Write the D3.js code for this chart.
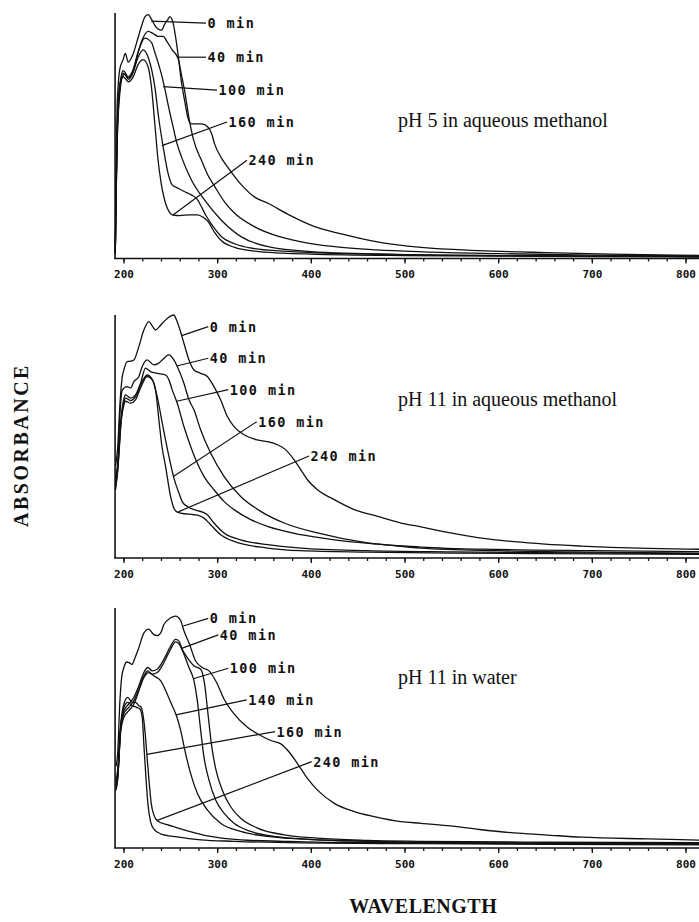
<!DOCTYPE html>
<html>
<head>
<meta charset="utf-8">
<script src="https://cdn.jsdelivr.net/npm/d3@7.9.0/dist/d3.min.js"></script>
<style>
  body { margin: 0; background: #fff; }
  svg { display: block; }
  .curve { fill: none; stroke: #111; stroke-width: 1.3; stroke-linejoin: round; }
  .axis-line { stroke: #111; stroke-width: 1.6; }
  .tick line { stroke: #111; stroke-width: 1.3; }
  .tick text { font-family: "DejaVu Sans Mono", monospace; font-weight: bold; font-size: 11px; fill: #111; }
  .leader { stroke: #111; stroke-width: 1.2; }
  .curve-label { font-family: "DejaVu Sans Mono", monospace; font-weight: bold; font-size: 13.5px; letter-spacing: 1.4px; fill: #111; }
  .panel-title { font-family: "Liberation Serif", serif; font-size: 20px; fill: #111; }
  .axis-title { font-family: "Liberation Serif", serif; font-weight: bold; font-size: 20px; fill: #111; }
</style>
</head>
<body>
<svg id="chart" width="699" height="922"></svg>
<script>
// x-axis tick labels (nm)
const majorTicks = [200, 300, 400, 500, 600, 700, 800];

// spectra: [wavelength nm, relative absorbance]
// pH 5 in aqueous methanol
const ph5_0 = [[191.2,.02],[192.2,.35],[193.2,.62],[196,.77],[199.6,.81],[202,.835],[205,.80],[210.3,.834],[215.6,.90],[219.2,.946],[223,.985],[226.3,.993],[229.8,.975],[233.4,.95],[236.9,.935],[240.5,.93],[244,.955],[247.6,.975],[249.4,.985],[252.9,.96],[256.5,.88],[258.3,.83],[261.8,.72],[265.4,.64],[269,.57],[272.5,.548],[283.2,.548],[290.3,.535],[293.9,.51],[297.4,.465],[304.5,.41],[311.6,.37],[325.9,.30],[340.1,.25],[354.3,.225],[375.7,.18],[404.1,.13],[432.6,.10],[468.1,.07],[518,.045],[580,.032],[650,.024],[720,.018],[816,.013]];
const ph5_40 = [[191.2,.02],[192.2,.3],[193.2,.52],[196,.71],[199.6,.745],[201.4,.75],[205,.73],[210.3,.76],[215.6,.84],[221,.90],[226.3,.925],[232,.915],[237,.905],[242.3,.905],[247,.88],[252,.85],[258.3,.815],[261.8,.75],[265.4,.68],[270,.57],[274.3,.49],[283.2,.40],[290,.34],[297.4,.293],[308,.23],[318.7,.184],[340.1,.129],[361.4,.095],[389.9,.068],[425.5,.048],[470,.035],[520,.027],[600,.02],[700,.014],[816,.01]];
const ph5_100 = [[191.2,.02],[192.2,.28],[193.2,.5],[196,.70],[199.6,.765],[201.4,.76],[205,.74],[210.3,.77],[215.6,.84],[222.7,.898],[229.8,.88],[233.4,.84],[240.5,.75],[244,.694],[248,.62],[252.9,.537],[257,.47],[261.8,.415],[272.5,.32],[286.7,.238],[304.5,.156],[325.9,.088],[354.3,.048],[400,.028],[500,.016],[600,.012],[700,.01],[816,.008]];
const ph5_160 = [[191.2,.02],[192.2,.27],[193.2,.48],[196,.69],[199.6,.755],[201.4,.75],[205,.735],[210.3,.76],[215.6,.82],[221,.85],[226.3,.82],[230,.77],[233.4,.70],[238,.56],[242.3,.456],[247.6,.347],[252,.30],[258.3,.286],[265.4,.272],[272.5,.259],[279,.24],[283.2,.211],[288,.175],[293.9,.14],[304.5,.09],[318.7,.06],[340,.04],[370,.03],[400,.024],[500,.016],[600,.012],[700,.01],[816,.008]];
const ph5_240 = [[191.2,.02],[192.2,.26],[193.2,.46],[196,.67],[199.6,.74],[201.4,.735],[205,.72],[210.3,.74],[215.6,.79],[221,.81],[226.3,.78],[229.8,.70],[233.4,.55],[236.9,.40],[240.5,.30],[245.8,.215],[252.9,.177],[260,.175],[270,.178],[279,.178],[285,.168],[290.3,.15],[297.4,.105],[304.5,.072],[318.7,.045],[340,.03],[370,.022],[400,.018],[500,.012],[600,.01],[700,.008],[816,.006]];

// pH 11 in aqueous methanol
const ph11m_0 = [[191.5,.38],[193.9,.46],[196,.62],[198.5,.74],[200.4,.774],[203.9,.808],[207.5,.81],[211.1,.815],[216.4,.87],[221.7,.938],[227.1,.973],[230.7,.955],[234.2,.938],[237.8,.95],[241.4,.966],[246.7,.986],[253.8,1.0],[256.5,.98],[259.2,.952],[264.5,.884],[269.9,.815],[275.2,.774],[282.4,.76],[289.5,.747],[296.6,.705],[303.7,.651],[310.9,.582],[318,.541],[328.7,.507],[343,.486],[353.7,.479],[364.3,.466],[373.3,.445],[382.2,.404],[389.3,.363],[396.4,.322],[407.1,.281],[425,.24],[446.3,.199],[471.3,.171],[496.3,.144],[517.6,.128],[546,.105],[580,.083],[617,.067],[650,.057],[689,.049],[720,.044],[760,.04],[816,.036]];
const ph11m_40 = [[191.5,.33],[193.9,.40],[196,.58],[198.6,.69],[203.9,.705],[207.5,.70],[211.1,.726],[216.4,.747],[220,.788],[225.3,.815],[232.4,.795],[237,.80],[241.4,.815],[248.5,.836],[253.8,.815],[257.4,.788],[264.5,.719],[269.9,.651],[275.2,.61],[282.4,.527],[293,.432],[307.3,.336],[325.1,.253],[346.5,.192],[371.5,.144],[407.1,.103],[460.6,.062],[517.6,.045],[600,.035],[700,.03],[816,.026]];
const ph11m_100 = [[191.5,.30],[193.9,.38],[197.5,.58],[200.4,.655],[202.1,.671],[207.5,.658],[212.8,.671],[218.2,.719],[223.5,.781],[228.9,.767],[236,.76],[244.9,.753],[248.5,.733],[252,.692],[257.4,.637],[264.5,.541],[271.7,.459],[278.8,.39],[285.9,.336],[296.6,.281],[307.3,.233],[318,.199],[335.8,.158],[353.7,.13],[389.3,.096],[425,.075],[478.4,.055],[517.6,.041],[600,.03],[700,.024],[816,.02]];
const ph11m_160 = [[191.5,.29],[193.9,.37],[197.5,.57],[200.4,.64],[202.1,.658],[207.5,.648],[212.8,.664],[218.2,.712],[225.3,.753],[230.7,.735],[236,.664],[241.4,.555],[248.5,.418],[253.8,.329],[259.2,.267],[263,.23],[268.1,.212],[278.8,.195],[285,.188],[289.5,.178],[296.6,.144],[307.3,.103],[325,.075],[353.7,.055],[389,.041],[460,.03],[550,.025],[650,.022],[816,.018]];
const ph11m_240 = [[191.5,.28],[193.9,.36],[197.5,.56],[200.4,.63],[202.1,.645],[207.5,.637],[212.8,.651],[218.2,.70],[225.3,.747],[230.7,.733],[234.2,.692],[237.8,.568],[241,.46],[244.9,.377],[250.3,.253],[253.8,.205],[257,.19],[261,.185],[275.2,.178],[280,.175],[285.9,.164],[293,.137],[303.7,.096],[318,.068],[353.7,.041],[389,.03],[460,.024],[550,.02],[650,.018],[816,.015]];

// pH 11 in water
const ph11w_0 = [[192,.34],[193.9,.40],[196,.6],[198,.71],[200.4,.752],[203.5,.775],[206,.772],[209,.765],[212,.79],[216,.83],[221.7,.895],[227,.912],[232,.89],[236,.885],[239.6,.895],[243,.93],[250,.958],[255.6,.966],[261,.948],[264.5,.905],[269.9,.855],[277,.779],[284.1,.752],[291.3,.738],[298.4,.697],[307.3,.621],[318,.559],[332.3,.503],[343,.476],[357.2,.448],[367.9,.434],[376.8,.40],[385.7,.352],[396.4,.29],[407.1,.241],[425,.186],[446.3,.152],[467.7,.131],[496.3,.11],[517.6,.103],[546,.093],[580,.077],[617,.063],[650,.055],[689,.045],[760,.038],[816,.033]];
const ph11w_40 = [[192,.28],[193.9,.33],[196.8,.50],[200.4,.572],[205.7,.60],[211.1,.628],[216.4,.676],[221.7,.731],[226,.752],[230.7,.738],[236,.745],[243.1,.786],[250.3,.841],[255.6,.869],[259.2,.862],[262.7,.828],[268.1,.793],[275.2,.759],[282.4,.745],[286.6,.683],[290.2,.559],[293.8,.434],[298.4,.331],[305.5,.241],[314.4,.172],[325.1,.124],[343,.083],[371.5,.055],[407.1,.041],[460.6,.032],[517.6,.028],[650,.024],[816,.022]];
const ph11w_100 = [[192,.27],[193.9,.31],[196.8,.49],[200.4,.559],[205.7,.586],[211.1,.614],[216.4,.662],[221.7,.717],[226,.738],[230.7,.724],[236,.731],[243.1,.772],[250.3,.828],[255.6,.859],[259.2,.851],[264.5,.807],[269.9,.752],[275.2,.697],[278.8,.614],[282.4,.49],[285.9,.379],[291.3,.283],[298.4,.20],[307.3,.145],[318,.103],[335.8,.069],[360.8,.048],[407.1,.034],[460.6,.028],[517.6,.023],[650,.02],[816,.018]];
const ph11w_140 = [[192,.26],[193.9,.30],[196.8,.476],[200.4,.545],[205.7,.572],[211.1,.60],[216.4,.655],[221.7,.71],[227.1,.731],[232.4,.717],[239.6,.697],[246.7,.641],[252,.593],[256.7,.549],[261,.49],[266.3,.393],[271.7,.31],[278.8,.228],[289.5,.159],[303.7,.103],[325.1,.069],[353.7,.048],[407.1,.034],[460.6,.028],[517.6,.023],[650,.019],[816,.017]];
const ph11w_160 = [[192,.25],[193.9,.297],[196.8,.503],[200.4,.60],[204.6,.628],[209.3,.607],[212.8,.607],[216.4,.593],[218.9,.586],[221.7,.531],[223.5,.462],[225.3,.372],[227.5,.269],[229.6,.186],[232.4,.138],[236,.114],[246.7,.097],[264.5,.076],[293,.048],[325.1,.034],[371.5,.028],[425,.023],[517.6,.021],[650,.018],[816,.016]];
const ph11w_240 = [[192,.24],[193.9,.29],[196.8,.49],[200.4,.586],[204.6,.607],[209.3,.593],[213.9,.586],[217.5,.579],[220,.545],[221.7,.434],[223.9,.297],[226,.186],[228.9,.11],[232.4,.079],[239.6,.059],[257.4,.046],[282.4,.034],[318,.028],[389.3,.021],[517.6,.018],[650,.015],[816,.013]];

// curve labels: leader from a point on the curve to the label (data units)
const ph5Labels = [
  { text: '0 min',   from: [229.4, .967], to: [288.1, .959] },
  { text: '40 min',  from: [257.1, .82],  to: [288.1, .82] },
  { text: '100 min', from: [242.2, .70],  to: [299.8, .686] },
  { text: '160 min', from: [241.1, .46],  to: [310.5, .556] },
  { text: '240 min', from: [252.8, .177], to: [331.8, .40] }
];
const ph11mLabels = [
  { text: '0 min',   from: [262.1, .915], to: [290.5, .952] },
  { text: '40 min',  from: [256.8, .79],  to: [290.5, .822] },
  { text: '100 min', from: [256.8, .645], to: [311.9, .693] },
  { text: '160 min', from: [253.2, .335], to: [342.2, .561] },
  { text: '240 min', from: [258.5, .19],  to: [398, .42] }
];
const ph11wLabels = [
  { text: '0 min',   from: [263.8, .925], to: [290.5, .957] },
  { text: '40 min',  from: [262.1, .832], to: [301.2, .888] },
  { text: '100 min', from: [274.5, .705], to: [311.9, .749] },
  { text: '140 min', from: [256, .555],   to: [331.5, .617] },
  { text: '160 min', from: [224.8, .39],  to: [361.7, .485] },
  { text: '240 min', from: [235.4, .114], to: [400.9, .36] }
];

const panels = [
  { title: 'pH 5 in aqueous methanol',  series: [ph5_0, ph5_40, ph5_100, ph5_160, ph5_240], labels: ph5Labels, titleAt: [493, .536] },
  { title: 'pH 11 in aqueous methanol', series: [ph11m_0, ph11m_40, ph11m_100, ph11m_160, ph11m_240], labels: ph11mLabels, titleAt: [493, .626] },
  { title: 'pH 11 in water',            series: [ph11w_0, ph11w_40, ph11w_100, ph11w_140, ph11w_160, ph11w_240], labels: ph11wLabels, titleAt: [493, .683] }
];

const svg = d3.select('#chart');
const x = d3.scaleLinear().domain([200, 800]).range([123.5, 685.5]);
const wlStart = 191, wlEnd = 816;

// vertical room of each panel on the page
const boxes = [
  { top: 13,  bottom: 258.5 },
  { top: 315, bottom: 558 },
  { top: 608, bottom: 848 }
];

panels.forEach((panel, i) => {
  const box = boxes[i];
  const y = d3.scaleLinear().domain([0, 1]).range([box.bottom, box.top]);
  const g = svg.append('g');

  // axis frame
  g.append('line').attr('class', 'axis-line')
    .attr('x1', x(wlStart)).attr('x2', x(wlStart))
    .attr('y1', y(0)).attr('y2', y(1));
  g.append('line').attr('class', 'axis-line')
    .attr('x1', x(wlStart) - 1).attr('x2', x(wlEnd))
    .attr('y1', y(0)).attr('y2', y(0));

  const minor = d3.axisBottom(x).tickValues(d3.range(200, wlEnd, 20)).tickSize(3).tickFormat('');
  g.append('g').attr('transform', `translate(0,${y(0)})`).call(minor)
    .call(a => a.select('.domain').remove());

  const major = d3.axisBottom(x).tickValues(majorTicks).tickSize(5).tickPadding(7).tickFormat(d3.format('d'));
  g.append('g').attr('transform', `translate(0,${y(0)})`).call(major)
    .call(a => a.select('.domain').remove());

  const line = d3.line()
    .x(d => x(d[0]))
    .y(d => y(d[1]))
    .curve(d3.curveMonotoneX);

  panel.series.forEach(s => {
    g.append('path').attr('class', 'curve').attr('d', line(s));
  });

  panel.labels.forEach(l => {
    g.append('line').attr('class', 'leader')
      .attr('x1', x(l.from[0])).attr('y1', y(l.from[1]))
      .attr('x2', x(l.to[0])).attr('y2', y(l.to[1]));
    g.append('text').attr('class', 'curve-label')
      .attr('x', x(l.to[0]) + 1.5)
      .attr('y', y(l.to[1]))
      .attr('dominant-baseline', 'central')
      .text(l.text);
  });

  g.append('text').attr('class', 'panel-title')
    .attr('x', x(panel.titleAt[0]))
    .attr('y', y(panel.titleAt[1]))
    .text(panel.title);
});

// shared axis titles
svg.append('text').attr('class', 'axis-title')
  .attr('transform', 'translate(21,445) rotate(-90)')
  .attr('text-anchor', 'middle')
  .attr('dominant-baseline', 'central')
  .style('letter-spacing', '2.5px')
  .text('ABSORBANCE');

svg.append('text').attr('class', 'axis-title')
  .attr('x', x(520))
  .attr('y', 913)
  .attr('text-anchor', 'middle')
  .style('letter-spacing', '0.5px')
  .text('WAVELENGTH');
</script>
</body>
</html>
